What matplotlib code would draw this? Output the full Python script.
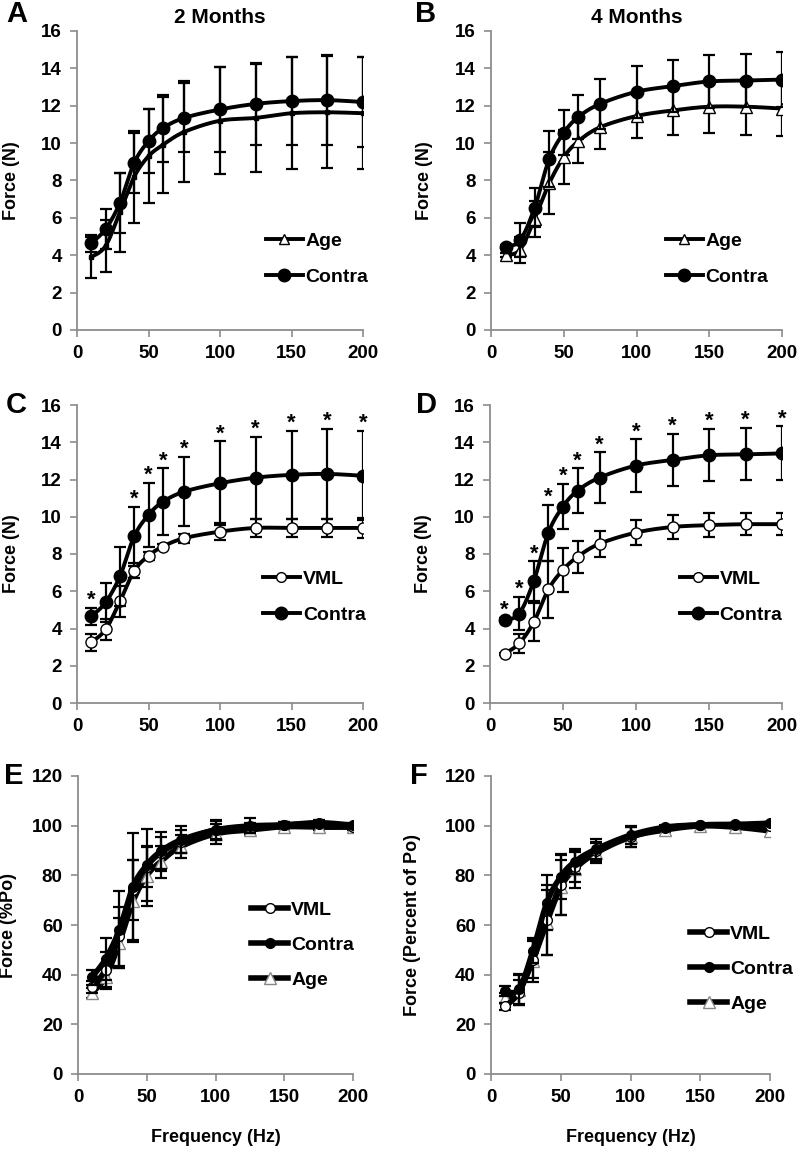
import numpy as np
import matplotlib
matplotlib.use("Agg")
import matplotlib.pyplot as plt
from matplotlib.lines import Line2D

plt.rcParams['font.family'] = ['Liberation Sans', 'DejaVu Sans']
plt.rcParams['font.weight'] = 'bold'

freq = [10, 20, 30, 40, 50, 60, 75, 100, 125, 150, 175, 200]

# 2 months, absolute force (N)
contra2 = [4.65, 5.4, 6.8, 8.95, 10.1, 10.8, 11.35, 11.8, 12.1, 12.25, 12.3, 12.2]
contra2_sd = [0.45, 1.05, 1.6, 1.6, 1.7, 1.8, 1.85, 2.25, 2.2, 2.35, 2.4, 2.4]
age2 = [3.9, 4.5, 6.3, 8.2, 9.3, 9.9, 10.6, 11.2, 11.35, 11.6, 11.65, 11.6]
age2_sd = [1.1, 1.4, 2.1, 2.45, 2.5, 2.55, 2.7, 2.85, 2.9, 3.0, 3.0, 3.0]
vml2 = [3.25, 3.95, 5.45, 7.1, 7.9, 8.4, 8.85, 9.2, 9.4, 9.4, 9.4, 9.4]
vml2_sd = [0.45, 0.55, 0.85, 0.4, 0.2, 0.15, 0.25, 0.45, 0.5, 0.5, 0.5, 0.55]
stars_c = [1, 0, 0, 1, 1, 1, 1, 1, 1, 1, 1, 1]

# 4 months, absolute force (N)
contra4 = [4.45, 4.8, 6.55, 9.15, 10.55, 11.4, 12.1, 12.75, 13.05, 13.3, 13.35, 13.4]
contra4_sd = [0.1, 0.9, 1.05, 1.5, 1.2, 1.2, 1.35, 1.4, 1.4, 1.4, 1.4, 1.45]
age4 = [4.0, 4.3, 5.95, 7.85, 9.25, 10.1, 10.85, 11.45, 11.75, 11.95, 11.95, 11.85]
age4_sd = [0.1, 0.7, 0.95, 1.65, 1.45, 1.15, 1.15, 1.15, 1.3, 1.4, 1.5, 1.45]
vml4 = [2.65, 3.2, 4.35, 6.1, 7.15, 7.85, 8.55, 9.15, 9.45, 9.55, 9.6, 9.6]
vml4_sd = [0.05, 0.5, 1.0, 1.55, 1.17, 0.85, 0.7, 0.67, 0.65, 0.63, 0.6, 0.6]
stars_d = [1, 1, 1, 1, 1, 1, 1, 1, 1, 1, 1, 1]

# 2 months, percent of Po
contra2p = [38.9, 46.3, 58.1, 75.5, 84.2, 89.6, 94.3, 98.3, 99.9, 100.3, 101.2, 100.2]
contra2p_sd = [3.0, 8.5, 15.4, 21.7, 14.5, 8.0, 5.5, 4.0, 3.0, 1.0, 1.0, 1.0]
vml2p = [35.0, 42.0, 55.4, 74.0, 83.5, 89.0, 93.6, 98.3, 99.0, 100.3, 100.7, 99.6]
vml2p_sd = [2.5, 7.0, 12.0, 12.0, 8.0, 6.5, 4.5, 3.5, 2.0, 1.0, 1.0, 1.0]
age2p = [32.6, 38.9, 52.7, 69.5, 79.8, 85.5, 91.6, 96.7, 98.3, 99.6, 99.4, 99.4]
age2p_sd = [2.0, 4.5, 10.0, 16.5, 12.0, 6.5, 4.5, 4.0, 2.0, 1.0, 1.0, 1.0]

# 4 months, percent of Po
contra4p = [33.3, 34.2, 49.6, 69.0, 79.5, 85.5, 90.5, 96.2, 99.4, 100.3, 100.5, 101.0]
contra4p_sd = [2.0, 6.0, 5.0, 11.0, 9.0, 5.0, 4.0, 3.5, 1.0, 0.5, 0.5, 0.5]
vml4p = [27.2, 32.8, 46.0, 62.0, 76.2, 83.5, 89.6, 95.4, 99.0, 100.3, 100.3, 99.9]
vml4p_sd = [1.5, 5.0, 7.5, 14.0, 12.0, 6.0, 4.0, 4.0, 1.0, 0.5, 0.5, 0.5]
age4p = [30.6, 33.9, 45.7, 61.0, 75.2, 82.5, 88.9, 95.4, 98.3, 99.9, 99.4, 97.9]
age4p_sd = [2.0, 6.0, 8.8, 13.0, 11.0, 7.7, 4.0, 4.0, 1.0, 0.5, 0.5, 0.5]

fig = plt.figure(figsize=(8, 11.52), dpi=100)

GRAY = '#8c8c8c'
TICK_FS = 13.5
LAB_FS = 13


def smooth(x, y, n=20):
    x = np.asarray(x, float)
    y = np.asarray(y, float)
    px = np.concatenate([[x[0]], x, [x[-1]]])
    py = np.concatenate([[y[0]], y, [y[-1]]])
    xs, ys = [], []
    for i in range(1, len(px) - 2):
        p0 = np.array([px[i - 1], py[i - 1]])
        p1 = np.array([px[i], py[i]])
        p2 = np.array([px[i + 1], py[i + 1]])
        p3 = np.array([px[i + 2], py[i + 2]])
        c1 = p1 + (p2 - p0) / 6.0
        c2 = p2 - (p3 - p1) / 6.0
        t = np.linspace(0, 1, n)[:, None]
        b = ((1 - t) ** 3) * p1 + 3 * ((1 - t) ** 2) * t * c1 + 3 * (1 - t) * t ** 2 * c2 + t ** 3 * p2
        xs.append(b[:, 0])
        ys.append(b[:, 1])
    return np.concatenate(xs), np.concatenate(ys)


def style_axes(ax, ymax, ystep):
    for s in ['top', 'right']:
        ax.spines[s].set_visible(False)
    for s in ['left', 'bottom']:
        ax.spines[s].set_color(GRAY)
        ax.spines[s].set_linewidth(1.3)
    ax.set_xlim(0, 200)
    ax.set_ylim(0, ymax)
    ax.set_xticks([0, 50, 100, 150, 200])
    ax.set_yticks(np.arange(0, ymax + 1, ystep))
    ax.tick_params(axis='both', direction='out', color=GRAY, width=1.2, length=5,
                   labelsize=TICK_FS, pad=6)
    for lab in ax.get_xticklabels() + ax.get_yticklabels():
        lab.set_fontweight('bold')
    ax.margins(0)


def series(ax, y, sd, marker, mfc, mec, ms, lw, zorder, ecolor='black'):
    sx, sy = smooth(freq, y)
    ax.plot(sx, sy, color='black', lw=lw, zorder=zorder, solid_capstyle='round')
    ax.errorbar(freq, y, yerr=sd, fmt='none', ecolor=ecolor, elinewidth=1.6,
                capsize=4, capthick=1.6, zorder=zorder - 0.5)
    ax.plot(freq, y, linestyle='none', marker=marker, mfc=mfc, mec=mec, ms=ms,
            mew=1.0, zorder=zorder + 0.5)


def legend(ax, items, x, y, spacing=0.95):
    hs = []
    for lab, mk, mfc, mec, ms, lw in items:
        hs.append(Line2D([0], [0], color='black', lw=lw, marker=mk, mfc=mfc, mec=mec,
                         ms=ms, mew=1.0, label=lab))
    leg = ax.legend(handles=hs, loc='upper left', bbox_to_anchor=(x, y), frameon=False,
                    handlelength=1.9, handletextpad=0.15, labelspacing=spacing,
                    prop={'size': 14, 'weight': 'bold'}, borderaxespad=0, borderpad=0)
    return leg


def stars(ax, y, sd, flags):
    for xf, yv, s, f in zip(freq, y, sd, flags):
        if f:
            ax.annotate('*', xy=(xf, yv + s), xytext=(0, 1.5), textcoords='offset points',
                        ha='center', va='baseline', fontsize=16, fontweight='bold',
                        zorder=10, annotation_clip=False)


def letter(x_px, y_px, s):
    fig.text(x_px / 800, 1 - y_px / 1152, s, fontsize=21, fontweight='bold',
             ha='left', va='center')


# positions (left, bottom, width, height) in figure fractions
posA = [77 / 800, 1 - 330 / 1152, 286 / 800, 299 / 1152]
posB = [491 / 800, 1 - 330 / 1152, 291 / 800, 299 / 1152]
posC = [77 / 800, 1 - 703 / 1152, 286 / 800, 298 / 1152]
posD = [490 / 800, 1 - 703 / 1152, 292 / 800, 298 / 1152]
posE = [78 / 800, 1 - 1074 / 1152, 275 / 800, 298 / 1152]
posF = [491 / 800, 1 - 1074 / 1152, 279 / 800, 298 / 1152]

LW = 2.8
LWP = 4.0

# Panel A
ax = fig.add_axes(posA)
style_axes(ax, 16, 2)
series(ax, age2, age2_sd, 's', 'black', 'black', 3.5, LW, 3)
series(ax, contra2, contra2_sd, 'o', 'black', 'black', 9, LW, 4)
legend(ax, [('Age', '^', 'white', 'black', 7, LW), ('Contra', 'o', 'black', 'black', 9, LW)],
       0.66, 0.328)
ax.set_ylabel('Force (N)', fontsize=LAB_FS, fontweight='bold')
ax.yaxis.set_label_coords(-0.2, 0.5)
ax.set_title('2 Months', fontsize=15, fontweight='bold', pad=6)

# Panel B
ax = fig.add_axes(posB)
style_axes(ax, 16, 2)
series(ax, age4, age4_sd, '^', 'white', 'black', 8, LW, 3)
series(ax, contra4, contra4_sd, 'o', 'black', 'black', 9, LW, 4)
legend(ax, [('Age', '^', 'white', 'black', 7, LW), ('Contra', 'o', 'black', 'black', 9, LW)],
       0.6, 0.328)
ax.set_ylabel('Force (N)', fontsize=LAB_FS, fontweight='bold')
ax.yaxis.set_label_coords(-0.2, 0.5)
ax.set_title('4 Months', fontsize=15, fontweight='bold', pad=6)

# Panel C
ax = fig.add_axes(posC)
style_axes(ax, 16, 2)
series(ax, vml2, vml2_sd, 'o', 'white', 'black', 8, LW, 3)
series(ax, contra2, contra2_sd, 'o', 'black', 'black', 9, LW, 4)
stars(ax, contra2, contra2_sd, stars_c)
legend(ax, [('VML', 'o', 'white', 'black', 7, LW), ('Contra', 'o', 'black', 'black', 9, LW)],
       0.65, 0.446)
ax.set_ylabel('Force (N)', fontsize=LAB_FS, fontweight='bold')
ax.yaxis.set_label_coords(-0.2, 0.5)

# Panel D
ax = fig.add_axes(posD)
style_axes(ax, 16, 2)
series(ax, vml4, vml4_sd, 'o', 'white', 'black', 8, LW, 3)
series(ax, contra4, contra4_sd, 'o', 'black', 'black', 9, LW, 4)
stars(ax, contra4, contra4_sd, stars_d)
legend(ax, [('VML', 'o', 'white', 'black', 7, LW), ('Contra', 'o', 'black', 'black', 9, LW)],
       0.65, 0.446)
ax.set_ylabel('Force (N)', fontsize=LAB_FS, fontweight='bold')
ax.yaxis.set_label_coords(-0.2, 0.5)

# Panel E
ax = fig.add_axes(posE)
style_axes(ax, 120, 20)
series(ax, age2p, age2p_sd, '^', 'white', '#888888', 8, LWP, 3)
series(ax, vml2p, vml2p_sd, 'o', 'white', 'black', 7, LWP, 4)
series(ax, contra2p, contra2p_sd, 'o', 'black', 'black', 7, LWP, 5)
legend(ax, [('VML', 'o', 'white', 'black', 7, LWP), ('Contra', 'o', 'black', 'black', 7, LWP),
            ('Age', '^', 'white', '#888888', 9, LWP)], 0.63, 0.58, spacing=0.9)
ax.set_ylabel('Force (%Po)', fontsize=LAB_FS, fontweight='bold')
ax.yaxis.set_label_coords(-0.22, 0.5)
ax.set_xlabel('Frequency (Hz)', fontsize=LAB_FS, fontweight='bold', labelpad=16)

# Panel F
ax = fig.add_axes(posF)
style_axes(ax, 120, 20)
series(ax, age4p, age4p_sd, '^', 'white', '#888888', 8, LWP, 3)
series(ax, vml4p, vml4p_sd, 'o', 'white', 'black', 7, LWP, 4)
series(ax, contra4p, contra4p_sd, 'o', 'black', 'black', 7, LWP, 5)
legend(ax, [('VML', 'o', 'white', 'black', 7, LWP), ('Contra', 'o', 'black', 'black', 7, LWP),
            ('Age', '^', 'white', '#888888', 9, LWP)], 0.715, 0.50, spacing=0.9)
ax.set_ylabel('Force (Percent of Po)', fontsize=LAB_FS, fontweight='bold')
ax.yaxis.set_label_coords(-0.25, 0.5)
ax.set_xlabel('Frequency (Hz)', fontsize=LAB_FS, fontweight='bold', labelpad=16)

letter(6, 14, 'A')
letter(415, 14, 'B')
letter(6, 405, 'C')
letter(416, 405, 'D')
letter(4, 776, 'E')
letter(410, 776, 'F')

fig.savefig('out.png', dpi=100)
